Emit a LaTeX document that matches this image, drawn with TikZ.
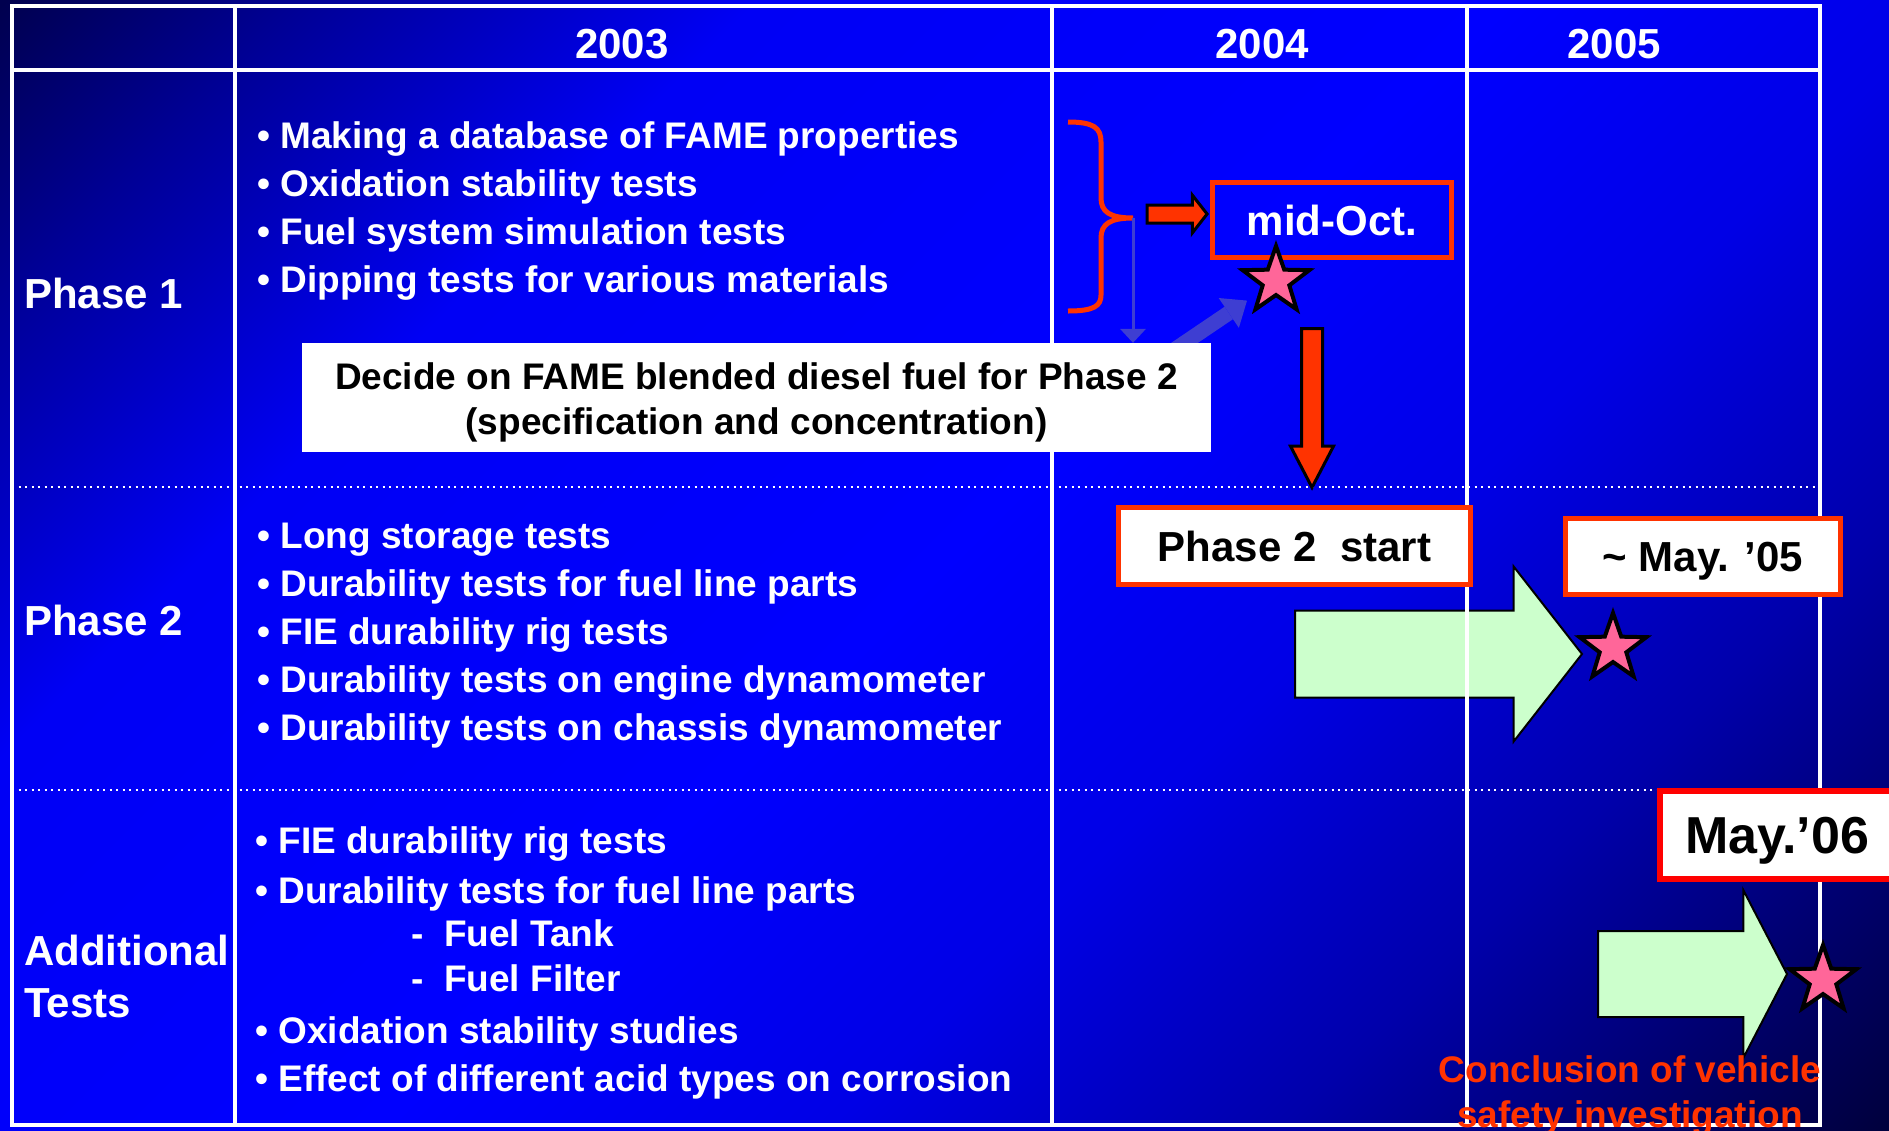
\documentclass[tikz,border=0pt]{standalone}
\usepackage{fontspec}
\setmainfont{Liberation Sans}
\usetikzlibrary{arrows.meta,shapes.geometric,shapes.arrows}

\definecolor{orred}{RGB}{255,51,0}
\definecolor{starpink}{RGB}{255,102,153}
\definecolor{palegreen}{RGB}{204,255,204}
\definecolor{hintblue}{RGB}{62,62,210}

% slide background, dark in two corners
\pgfdeclareverticalshading{slide}{100bp}{%
  rgb(0bp)=(0,0,0.24);
  rgb(14.6bp)=(0,0,0.24);
  rgb(28.8bp)=(0,0,0.67);
  rgb(39.4bp)=(0,0,0.9);
  rgb(50bp)=(0,0,1);
  rgb(67.7bp)=(0,0,0.96);
  rgb(78.3bp)=(0,0,0.59);
  rgb(85.4bp)=(0,0,0.31);
  rgb(100bp)=(0,0,0.31)}

\begin{document}
\begin{tikzpicture}[x=1pt,y=-1pt,
  tableline/.style={white,line width=3.5pt},
  rowsep/.style={white,line width=2pt,dash pattern=on 2pt off 4.5pt},
  year/.style={white,anchor=base,inner sep=0pt,font=\fontsize{42}{50}\selectfont\bfseries},
  rowlabel/.style={white,anchor=base west,inner sep=0pt,font=\fontsize{42}{50}\selectfont\bfseries},
  item/.style={white,anchor=base west,inner sep=0pt,font=\fontsize{37}{45}\selectfont\bfseries},
  datebox/.style={draw=orred,line width=5pt,fill=white,inner sep=0pt,text depth=0pt,font=\fontsize{42}{50}\selectfont\bfseries},
  milestone/.style={star,star points=5,star point ratio=2.5,draw=black,line width=4pt,fill=starpink,inner sep=0pt,minimum size=70pt},
  bigarrow/.style={single arrow,draw=black,line width=2pt,fill=palegreen,inner xsep=0pt,anchor=tail},
  redarrow/.style={single arrow,draw=black,line width=3pt,fill=orred,inner xsep=0pt},
  hint/.style={draw=hintblue,line width=3pt,-{Triangle[width=26pt,length=14pt,line width=0pt]}},
  fathint/.style={draw=hintblue,line width=15pt,-{Triangle[width=36pt,length=22pt,line width=0pt]}},
]

\clip (0,0) rectangle (1889,1130);
\shade[shading=slide,shading angle=45] (0,0) rectangle (1889,1130);

% timeline arrows sit under the grid
\node[bigarrow,inner ysep=42.5pt,minimum height=287pt,single arrow head extend=44pt,single arrow tip angle=104] (run2) at (1294,654) {};
\node[bigarrow,inner ysep=42pt,minimum height=189pt,single arrow head extend=41pt,single arrow tip angle=125] (run3) at (1597,974) {};

% table
\draw[tableline] (12,6) rectangle (1820,1125);
\draw[tableline] (12,70) -- (1820,70);
\foreach \x in {235,1052,1467}
  \draw[tableline] (\x,6) -- (\x,1125);
\foreach \y in {487,790}
  \draw[rowsep] (12,\y) -- (1820,\y);

\node[year] (y2003) at (622,58) {2003};
\node[year] (y2004) at (1262,58) {2004};
\node[year] (y2005) at (1614,58) {2005};

\node[rowlabel] (ph1) at (24,308) {Phase 1};
\node[rowlabel] (ph2) at (24,635) {Phase 2};
\node[rowlabel] (add1) at (24,965) {Additional};
\node[rowlabel] (add2) at (24,1017) {Tests};

\foreach \y/\txt [count=\i] in {148/Making a database of FAME properties,
    196/Oxidation stability tests, 244/Fuel system simulation tests,
    292/Dipping tests for various materials}
  \node[item] (pa-\i) at (257,\y) {• \txt};

\foreach \y/\txt [count=\i] in {548/Long storage tests,
    596/Durability tests for fuel line parts, 644/FIE durability rig tests,
    692/Durability tests on engine dynamometer,
    740/Durability tests on chassis dynamometer}
  \node[item] (pb-\i) at (257,\y) {• \txt};

\foreach \x/\y/\txt [count=\i] in {255/853/• FIE durability rig tests,
    255/903/• Durability tests for fuel line parts, 411/946/-~ Fuel Tank,
    411/991/-~ Fuel Filter, 255/1043/• Oxidation stability studies,
    255/1091/• Effect of different acid types on corrosion}
  \node[item] (pc-\i) at (\x,\y) {\txt};

% phase 1 outcome
\coordinate (bracetip) at (1133,218);
\draw[orred,line width=5pt] (1068,122) .. controls (1094,122) and (1101,128) .. (1101,142)
  -- (1101,198) .. controls (1101,212) and (1110,218) .. (bracetip)
  .. controls (1110,218) and (1101,224) .. (1101,238)
  -- (1101,295) .. controls (1101,306) and (1094,311) .. (1068,311);

\node[datebox,fill=none,text=white,minimum width=239pt,minimum height=75pt] (midoct) at (1332,220) {mid-Oct.};
\node[redarrow,anchor=tip,inner ysep=7.5pt,minimum height=60pt,single arrow head extend=10pt,single arrow tip angle=104] (toOct) at (1209,214) {};
\node[milestone] (s1) at (1276,281) {};

\coordinate (fatfoot) at (1174,350);
\draw[fathint,shorten >=35pt] (fatfoot) -- (s1.center);

\node[fill=white,inner sep=0pt,minimum width=909pt,minimum height=109pt,align=center,
  font=\fontsize{37}{45}\selectfont\bfseries] (decide) at (756.5,397.5)
  {\rule{0pt}{37pt}Decide on FAME blended diesel fuel for Phase 2\\(specification and concentration)};
\draw[hint] (bracetip) -- (bracetip |- decide.north);

\node[redarrow,rotate=-90,anchor=tail,inner ysep=9pt,minimum height=159pt,single arrow head extend=11pt,single arrow tip angle=55] (toStart) at (1312,327) {};

% phase 2 and later
\node[datebox,minimum width=352pt,minimum height=77pt] (start2) at (1294.5,546) {Phase 2~ start};
\node[datebox,minimum width=275pt,minimum height=76pt] (may05) at (1703,556.5) {\textasciitilde{} May. ’05};
\node[milestone] (s2) at (1613,648) {};

\node[datebox,draw=red,line width=6pt,minimum width=234pt,minimum height=88pt,
  font=\fontsize{52}{60}\selectfont\bfseries] (may06) at (1777,835) {May.’06};
\node[milestone] (s3) at (1823,980) {};

\node[text=orred,align=center,inner sep=0pt,anchor=north,
  font=\fontsize{37}{45}\selectfont\bfseries] (concl) at (1630,1055)
  {Conclusion of vehicle\\safety investigation};

\end{tikzpicture}
\end{document}
